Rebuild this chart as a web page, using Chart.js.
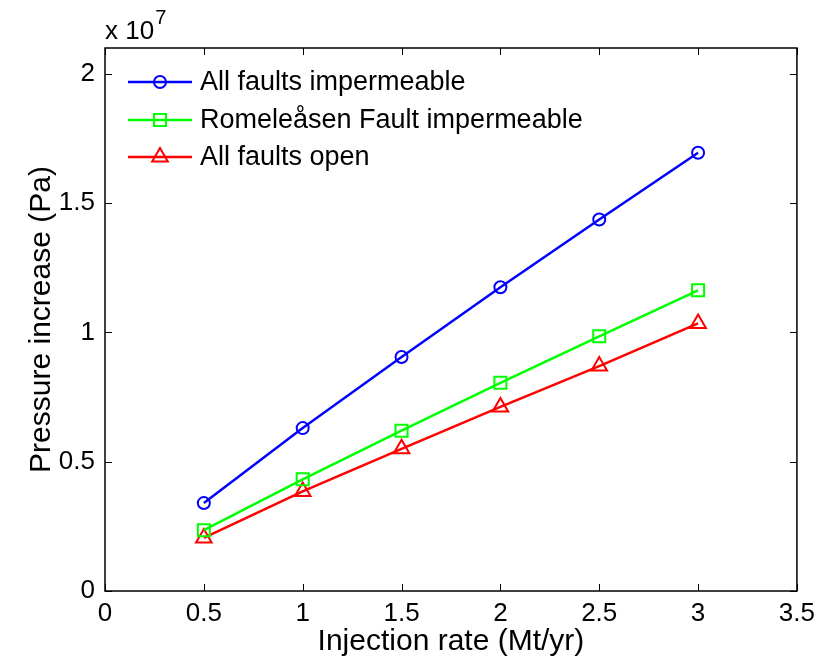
<!DOCTYPE html>
<html>
<head>
<meta charset="utf-8">
<script src="https://cdn.jsdelivr.net/npm/chart.js@4.4.0/dist/chart.umd.min.js"></script>
<style>
  html, body { margin: 0; padding: 0; background: #fff; }
  #wrap { width: 822px; height: 672px; }
</style>
</head>
<body>
<div id="wrap"><canvas id="pressureChart" width="822" height="672"></canvas></div>
<script>
// injection rate (Mt/yr)
const rates = [0.5, 1, 1.5, 2, 2.5, 3];
// pressure increase (Pa)
const allImpermeable = [0.34e7, 0.63e7, 0.905e7, 1.175e7, 1.437e7, 1.695e7];
const romeleasenImpermeable = [0.235e7, 0.432e7, 0.62e7, 0.805e7, 0.985e7, 1.163e7];
const allOpen = [0.205e7, 0.385e7, 0.55e7, 0.712e7, 0.87e7, 1.035e7];
const seriesNames = ["All faults impermeable", "Romeleåsen Fault impermeable", "All faults open"];
const xTicks = [0, 0.5, 1, 1.5, 2, 2.5, 3, 3.5];
const yTicks = [0, 0.5e7, 1e7, 1.5e7, 2e7];

const FONT = "'Liberation Sans', Arial, Helvetica, sans-serif";

function toPoints(vals) {
    return rates.map((r, i) => ({ x: r, y: vals[i] }));
}

function lineSet(label, vals, color, style, radius) {
    return {
        label: label,
        data: toPoints(vals),
        borderColor: color,
        backgroundColor: "transparent",
        borderWidth: 2.5,
        pointStyle: style,
        pointRadius: radius,
        pointBorderWidth: 2,
        pointBorderColor: color,
        pointBackgroundColor: "transparent",
        tension: 0
    };
}

// box, inward ticks, exponent label and legend (matlab look)
const matlabFrame = {
    id: "matlabFrame",
    afterDraw(chart) {
        const ctx = chart.ctx;
        const a = chart.chartArea;
        const xs = chart.scales.x, ys = chart.scales.y;
        const tl = 7;
        ctx.save();
        ctx.strokeStyle = "#000";
        ctx.lineWidth = 1.5;
        ctx.strokeRect(a.left, a.top, a.right - a.left, a.bottom - a.top);
        ctx.beginPath();
        xTicks.forEach(v => {
            const px = Math.round(xs.getPixelForValue(v)) + 0.5;
            ctx.moveTo(px, a.bottom); ctx.lineTo(px, a.bottom - tl);
            ctx.moveTo(px, a.top); ctx.lineTo(px, a.top + tl);
        });
        yTicks.forEach(v => {
            const py = Math.round(ys.getPixelForValue(v)) + 0.5;
            ctx.moveTo(a.left, py); ctx.lineTo(a.left + tl, py);
            ctx.moveTo(a.right, py); ctx.lineTo(a.right - tl, py);
        });
        ctx.lineWidth = 1;
        ctx.stroke();

        // exponent
        ctx.fillStyle = "#000";
        ctx.textBaseline = "alphabetic";
        ctx.textAlign = "left";
        ctx.font = "26px " + FONT;
        ctx.fillText("x 10", a.left, 39);
        const w = ctx.measureText("x 10").width;
        ctx.font = "20px " + FONT;
        ctx.fillText("7", a.left + w + 1, 24);

        // legend
        const rows = [82, 120, 157];
        chart.data.datasets.forEach((ds, i) => {
            const y = rows[i];
            ctx.strokeStyle = ds.borderColor;
            ctx.lineWidth = 2.5;
            ctx.beginPath();
            ctx.moveTo(128, y); ctx.lineTo(192, y);
            ctx.stroke();
            ctx.lineWidth = 2;
            ctx.fillStyle = "transparent";
            Chart.helpers.drawPoint(ctx, { pointStyle: ds.pointStyle, radius: ds.pointRadius, borderWidth: 2 }, 160, y);
            ctx.fillStyle = "#000";
            ctx.font = "27px " + FONT;
            ctx.textBaseline = "middle";
            ctx.fillText(ds.label, 200, y + 1);
        });
        ctx.restore();
    }
};

new Chart(document.getElementById("pressureChart").getContext("2d"), {
    type: "line",
    data: {
        datasets: [
            lineSet(seriesNames[0], allImpermeable, "#0000ff", "circle", 6),
            lineSet(seriesNames[1], romeleasenImpermeable, "#00ff00", "rect", 8.5),
            lineSet(seriesNames[2], allOpen, "#ff0000", "triangle", 9)
        ]
    },
    options: {
        responsive: false,
        animation: false,
        layout: { padding: { top: 48, right: 21, left: 0, bottom: 0 } },
        plugins: { legend: { display: false }, tooltip: { enabled: false } },
        scales: {
            x: {
                type: "linear",
                min: 0,
                max: 3.5,
                afterBuildTicks: s => { s.ticks = xTicks.map(v => ({ value: v })); },
                afterFit: s => { s.height = 81; },
                grid: { display: false, drawTicks: false },
                border: { display: false },
                ticks: { color: "#000", padding: 7, font: { family: FONT, size: 26 }, maxRotation: 0, callback: v => String(v) },
                title: { display: true, text: "Injection rate (Mt/yr)", color: "#000", padding: { top: 0, bottom: 12 }, font: { family: FONT, size: 30 } }
            },
            y: {
                type: "linear",
                min: 0,
                max: 2.1e7,
                afterBuildTicks: s => { s.ticks = yTicks.map(v => ({ value: v })); },
                afterFit: s => { s.width = 105; },
                grid: { display: false, drawTicks: false },
                border: { display: false },
                ticks: { color: "#000", padding: 10, font: { family: FONT, size: 26 }, callback: v => String(v / 1e7) },
                title: { display: true, text: "Pressure increase (Pa)", color: "#000", padding: { top: 24, bottom: 0 }, font: { family: FONT, size: 30 } }
            }
        }
    },
    plugins: [matlabFrame]
});
</script>
</body>
</html>
